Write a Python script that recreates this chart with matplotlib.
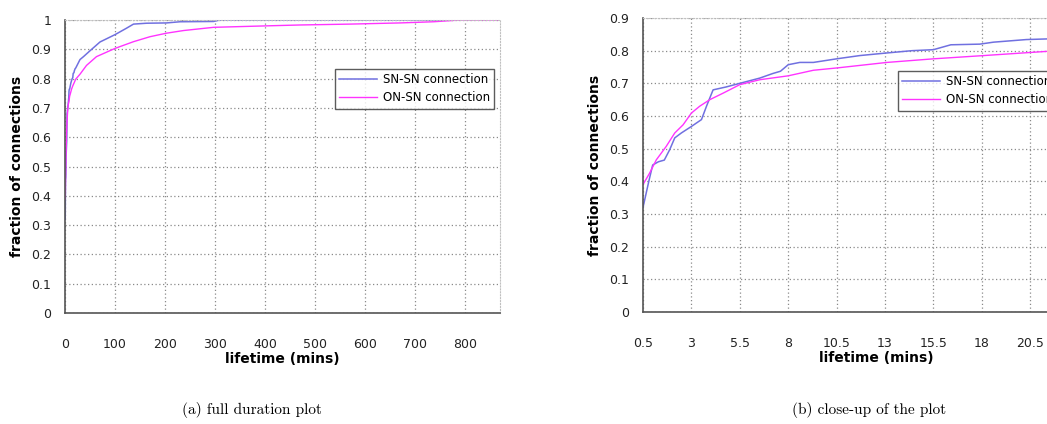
import numpy as np
import matplotlib
matplotlib.use("Agg")
import matplotlib.pyplot as plt

# CDF of connection lifetime (mins)
sn_x = [0.5, 0.8, 1.0, 1.3, 1.6, 1.88, 2.14, 2.48, 3.0, 3.52, 3.78, 4.12, 4.8, 5.5,
        6.53, 7.2, 7.6, 8.0, 8.6, 9.3, 10.5, 11.7, 13.1, 14.4, 15.5, 16.4, 17.9,
        18.6, 20.3, 21.4, 30, 37, 50, 70, 100, 123, 137, 163, 203, 230, 297, 310, 780]
sn_y = [0.32, 0.40, 0.45, 0.46, 0.465, 0.497, 0.533, 0.548, 0.568, 0.589, 0.63, 0.68,
        0.689, 0.70, 0.716, 0.73, 0.737, 0.757, 0.764, 0.764, 0.775, 0.785, 0.793,
        0.80, 0.803, 0.818, 0.82, 0.826, 0.834, 0.836, 0.865, 0.875, 0.895, 0.925,
        0.95, 0.972, 0.986, 0.989, 0.99, 0.994, 0.995, 1.0, 1.0]

on_x = [0.5, 0.84, 1.19, 1.7, 2.14, 2.57, 3.0, 3.43, 3.95, 4.64, 5.5, 6.53, 8.0, 9.3,
        10.5, 13.1, 15.5, 18.1, 21.4, 30, 43, 63, 100, 137, 170, 203, 237, 297, 403,
        470, 570, 670, 737, 790, 875]
on_y = [0.39, 0.425, 0.466, 0.507, 0.548, 0.573, 0.609, 0.63, 0.65, 0.67, 0.696, 0.711,
        0.723, 0.74, 0.747, 0.764, 0.775, 0.785, 0.798, 0.815, 0.845, 0.875, 0.903,
        0.926, 0.943, 0.955, 0.964, 0.975, 0.98, 0.983, 0.986, 0.99, 0.994, 1.0, 1.0]

full_xticks = [0, 100, 200, 300, 400, 500, 600, 700, 800]
full_yticks = [0, 0.1, 0.2, 0.3, 0.4, 0.5, 0.6, 0.7, 0.8, 0.9, 1]
close_xticks = [0.5, 3, 5.5, 8, 10.5, 13, 15.5, 18, 20.5]
close_yticks = [0, 0.1, 0.2, 0.3, 0.4, 0.5, 0.6, 0.7, 0.8, 0.9]

sn_color = '#7070e0'
on_color = '#ff33ff'

fig = plt.figure(figsize=(10.47, 4.24), dpi=100)
ax1 = fig.add_axes([65/1047, 111/424, 435/1047, 293/424])
ax2 = fig.add_axes([643/1047, 112/424, 467/1047, 294/424])


def style(ax, xticks, yticks, xlim, ylim):
    ax.plot(sn_x, sn_y, color=sn_color, lw=1.1, label='SN-SN connection')
    ax.plot(on_x, on_y, color=on_color, lw=1.0, label='ON-SN connection')
    ax.set_xlim(*xlim)
    ax.set_ylim(*ylim)
    ax.set_xticks(xticks)
    ax.set_yticks(yticks)
    ax.set_xticklabels([f'{t:g}' for t in xticks])
    ax.set_yticklabels([f'{t:g}' for t in yticks])
    ax.grid(True, color='#8a8a8a', linestyle=(0, (1, 2)), lw=0.9)
    ax.tick_params(length=0, labelsize=9, colors='#222222')
    ax.tick_params(axis='x', pad=18)
    ax.tick_params(axis='y', pad=10)
    for s in ['left', 'bottom']:
        ax.spines[s].set_color('#555555')
        ax.spines[s].set_linewidth(1.2)
    for s in ['top', 'right']:
        ax.spines[s].set_color('#c0c0c0')
        ax.spines[s].set_linestyle(':')
    ax.set_xlabel('lifetime (mins)', fontsize=10, fontweight='bold', labelpad=1)
    ax.set_ylabel('fraction of connections', fontsize=10, fontweight='bold', labelpad=5)
    leg = ax.legend(loc='upper left', fontsize=8.5, frameon=True, fancybox=False,
                    handlelength=3.2, borderpad=0.35, labelspacing=0.45,
                    handletextpad=0.5, borderaxespad=0)
    leg.get_frame().set_edgecolor('#333333')
    leg.get_frame().set_linewidth(1.0)
    return leg


leg1 = style(ax1, full_xticks, full_yticks, (0, 870), (0, 1))
leg1.set_bbox_to_anchor((335/1047, 355/424), transform=fig.transFigure)
leg2 = style(ax2, close_xticks, close_yticks, (0.5, 0.5 + 467/19.36), (0, 0.9))
leg2.set_bbox_to_anchor((898/1047, 353/424), transform=fig.transFigure)

fig.text(252/1047, 14/424, '(a) full duration plot', ha='center', va='center',
         fontsize=11, family='cmr10')
fig.text(869/1047, 14/424, '(b) close-up of the plot', ha='center', va='center',
         fontsize=11, family='cmr10')

fig.savefig('out.png', dpi=100)
